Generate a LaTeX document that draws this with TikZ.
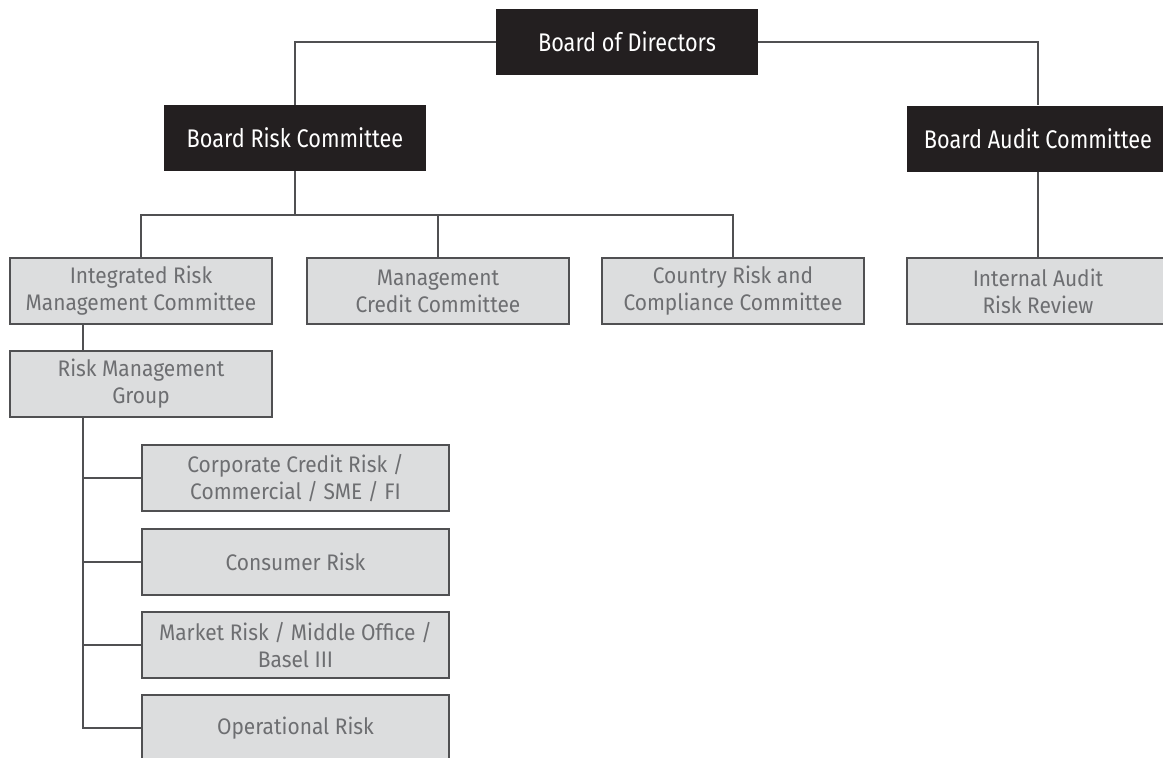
\documentclass[tikz,border=0pt]{standalone}
\usepackage{fontspec}
\setmainfont{Fira Sans}[FakeStretch=0.85]
\newfontfamily\grayfont{Fira Sans}[FakeStretch=0.93]
\definecolor{boxblack}{HTML}{231F20}
\definecolor{boxgray}{HTML}{DCDDDE}
\definecolor{txtgray}{HTML}{6D6E71}
\definecolor{edgegray}{HTML}{505052}
\begin{document}
\begin{tikzpicture}[x=1pt,y=-1pt,
  board/.style={fill=boxblack, text=white, minimum width=262pt, minimum height=66pt, inner sep=0pt, font=\fontsize{25.5}{28}\selectfont},
  unit/.style={fill=boxgray, draw=edgegray, line width=1.1pt, text=txtgray, minimum width=262pt, minimum height=66pt, inner sep=0pt, align=center, font=\grayfont\fontsize{22.5}{27}\selectfont},
  sub/.style={unit, minimum width=307pt},
  link/.style={draw=edgegray, line width=1.2pt}]
\useasboundingbox (0,0) rectangle (1163,758);
\clip (0,0) rectangle (1163,758);
\node[board] (bod) at (627,42) {Board of Directors};
\node[board] (brc) at (295,138) {Board Risk Committee};
\node[board] (bac) at (1038,138.5) {Board Audit Committee};
\node[unit] (irmc) at (141,291) {Integrated Risk\\Management Committee};
\node[unit] (mcc) at (438,291) {Management\\Credit Committee};
\node[unit] (crcc) at (733,291) {Country Risk and\\Compliance Committee};
\node[unit] (ia) at (1038,291) {Internal Audit\\Risk Review};
\node[unit] (rmg) at (141,384) {Risk Management\\Group};
\node[sub] (ccr) at (295.5,478) {Corporate Credit Risk /\\Commercial / SME / FI};
\node[sub] (cr) at (295.5,562) {Consumer Risk};
\node[sub] (mr) at (295.5,645) {Market Risk / Middle Office /\\Basel III};
\node[sub] (opr) at (295.5,728) {Operational Risk};
\coordinate (j1) at (295,215);
\coordinate (trunk) at (83,417);
\draw[link] (bod.west) -| (brc.north);
\draw[link] (bod.east) -| (bac.north);
\draw[link] (brc.south) -- (j1);
\draw[link] (irmc.north) |- (crcc.north |- j1) -- (crcc.north);
\draw[link] (mcc.north) -- (mcc.north |- j1);
\draw[link] (bac.south) -- (ia.north);
\draw[link] (irmc.south -| trunk) -- (rmg.north -| trunk);
\draw[link] (trunk) |- (opr.west);
\draw[link] (ccr.west) -- (ccr.west -| trunk);
\draw[link] (cr.west) -- (cr.west -| trunk);
\draw[link] (mr.west) -- (mr.west -| trunk);
\end{tikzpicture}
\end{document}
